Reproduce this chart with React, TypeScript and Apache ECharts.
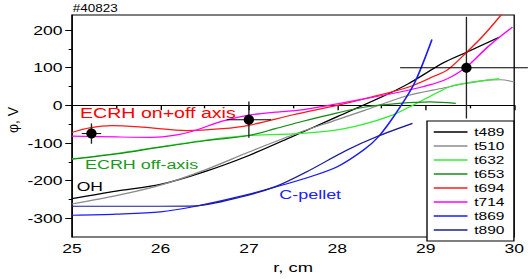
import React, { useEffect, useRef } from 'react';
import * as echarts from 'echarts';

// horizontal stretch of the reference picture
const S = 1.35;
const W = 528 / S;
const H = 279;
const FONT = 'Liberation Sans, Arial, sans-serif';

const seriesNames = ['t489', 't510', 't632', 't653', 't694', 't714', 't869', 't890'];
const seriesColors = ['#000000', '#8c8c8c', '#33ee33', '#158c15', '#ff1a1a', '#ff00ff', '#1a1aff', '#1c1c9c'];

const t489 = [[25, -248], [25.5, -228], [26, -210], [26.5, -176], [27, -133], [27.5, -82], [28, -30], [28.5, 22], [28.8, 57], [29.2, 113], [29.45, 140], [29.83, 181]];
const t510 = [[25, -262], [25.5, -240], [26, -212], [26.5, -172], [27, -124], [27.5, -78], [28, -38], [28.3, -14], [28.8, 26], [29.2, 46], [29.45, 58], [29.7, 67], [29.85, 68], [30, 62]];
const t632 = [[25, -142], [25.5, -128], [26, -110], [26.5, -93], [27, -80], [27.5, -76], [28, -65], [28.3, -50], [28.6, -28], [28.8, -6], [29, 18], [29.15, 36], [29.3, 52], [29.5, 61], [29.83, 71]];
const t653 = [[25, -143], [25.5, -129], [26, -111], [26.5, -94], [27, -80], [27.3, -62], [27.6, -43], [28, -20], [28.3, -5], [28.7, 5], [29.05, 9], [29.34, 5]];
const t694 = [[25, -72], [25.2, -60], [25.45, -54], [25.8, -58], [26.3, -67], [26.7, -62], [27, -53], [27.5, -25], [28, 0], [28.3, 17], [28.8, 48], [29.1, 78], [29.25, 95], [29.45, 138], [29.65, 185], [29.88, 248]];
const t714 = [[25, -82], [25.5, -84], [25.9, -85], [26.15, -80], [26.4, -66], [26.7, -42], [27, -26], [27.3, -18], [27.6, -12], [28, 4], [28.3, 17], [28.8, 40], [29.2, 66], [29.45, 100], [29.7, 155], [29.98, 208]];
const t869 = [[25, -292], [25.5, -289], [26, -283], [26.4, -268], [26.9, -242], [27.3, -217], [27.65, -193], [28, -163], [28.3, -118], [28.47, -82], [28.66, -22], [28.87, 58], [29.07, 175]];
const t890 = [[25, -268], [25.5, -268], [26, -268], [26.4, -267], [26.9, -244], [27.3, -216], [27.65, -177], [28.1, -120], [28.45, -83], [28.85, -48]];
const seriesData = [t489, t510, t632, t653, t694, t714, t869, t890];

// [r, phi, r error, phi error]
const errorPoints = [[25.22, -75, 0.11, 27], [27.0, -38, 0.25, 48], [29.46, 100, 0.75, 135]];

const xTicks = { min: 25, max: 30, interval: 1 };
const yMajorTicks = [-300, -200, -100, 0, 100, 200];
const yMinorTicks = [-250, -150, -50, 50, 150];
const yRange = { min: -350, max: 240 };

const annotations = [
  { text: 'ECRH on+off axis', color: '#ff0000', size: 14.5, x: 80, y: 112.5 },
  { text: 'ECRH off-axis', color: '#1a9a1a', size: 13.3, x: 85, y: 164 },
  { text: 'OH', color: '#000000', size: 13, x: 76.7, y: 186 },
  { text: 'C-pellet', color: '#2020ff', size: 13.3, x: 279.3, y: 194.6 },
];

export default function App() {
  const ref = useRef<HTMLDivElement>(null);
  useEffect(() => {
    const chart = echarts.init(ref.current!, null, { renderer: 'svg', width: W, height: H });
    const lineSeries = seriesNames.map((name, i) => ({
      name,
      type: 'line',
      data: seriesData[i],
      smooth: 0.3,
      symbol: 'none',
      clip: true,
      lineStyle: { color: seriesColors[i], width: 1.2 },
      itemStyle: { color: seriesColors[i] },
      z: 2,
    }));
    const errSeries = {
      type: 'custom',
      data: errorPoints,
      encode: { x: 0, y: 1 },
      clip: false,
      z: 3,
      renderItem: (_p: any, api: any) => {
        const x = api.value(0), y = api.value(1), dx = api.value(2), dy = api.value(3);
        const c = api.coord([x, y]);
        const l = api.coord([x - dx, y]);
        const r = api.coord([x + dx, y]);
        const t = api.coord([x, y + dy]);
        const b = api.coord([x, y - dy]);
        return {
          type: 'group',
          children: [
            { type: 'line', shape: { x1: l[0], y1: l[1], x2: r[0], y2: r[1] }, style: { stroke: '#000', lineWidth: 1 } },
            { type: 'line', shape: { x1: t[0], y1: t[1], x2: b[0], y2: b[1] }, style: { stroke: '#222', lineWidth: 1 } },
            { type: 'ellipse', shape: { cx: c[0], cy: c[1], rx: 3.8, ry: 5 }, style: { fill: '#000' } },
          ],
        };
      },
    };
    const graphics: any[] = annotations.map((a) => ({
      type: 'text',
      x: a.x / S,
      y: a.y,
      style: { text: a.text, fill: a.color, font: `${a.size}px ${FONT}`, textAlign: 'left', textVerticalAlign: 'middle' },
      z: 10,
    }));
    graphics.push({
      type: 'text', x: 72.7 / S, y: 9,
      style: { text: '#40823', fill: '#000', font: `10px ${FONT}`, textAlign: 'left', textVerticalAlign: 'middle' },
    });
    graphics.push({
      type: 'text', x: 13 / S, y: 120, rotation: Math.PI / 2, scaleY: 1 / S,
      style: { text: 'φ, V', fill: '#000', font: `14px ${FONT}`, textAlign: 'center', textVerticalAlign: 'middle' },
    });

    chart.setOption({
      animation: false,
      backgroundColor: '#fff',
      grid: { left: 72 / S, right: W - 515.3 / S, top: 15, bottom: 279 - 238.3, show: true, borderColor: '#000', borderWidth: 1, backgroundColor: 'transparent' },
      legend: {
        data: seriesNames,
        orient: 'vertical',
        left: 427 / S,
        top: 121,
        padding: [5, 7, 5, 5],
        icon: 'rect',
        itemWidth: 25,
        itemHeight: 1.6,
        itemGap: 2,
        backgroundColor: '#fff',
        borderColor: '#000',
        borderWidth: 1,
        borderRadius: 0,
        textStyle: { fontSize: 11.5, lineHeight: 11.5, color: '#000', fontFamily: FONT },
        z: 5,
      },
      xAxis: {
        type: 'value',
        min: xTicks.min,
        max: xTicks.max,
        interval: xTicks.interval,
        name: 'r, cm',
        nameLocation: 'middle',
        nameGap: 18,
        nameTextStyle: { fontSize: 13.6, color: '#000', fontFamily: FONT },
        axisLine: { show: true, lineStyle: { color: '#000', width: 1 } },
        axisTick: { show: true, length: 5, lineStyle: { color: '#000' } },
        minorTick: { show: true, splitNumber: 2, length: 3, lineStyle: { color: '#000' } },
        axisLabel: { fontSize: 13, color: '#000', margin: 5, fontFamily: FONT },
        splitLine: { show: false },
      },
      yAxis: [
        {
          type: 'value',
          min: yRange.min,
          max: yRange.max,
          axisLine: { show: true, lineStyle: { color: '#000', width: 1 } },
          axisTick: { show: true, length: 5, customValues: yMajorTicks, lineStyle: { color: '#000' } },
          axisLabel: { customValues: yMajorTicks, fontSize: 13, color: '#000', margin: 7, fontFamily: FONT },
          splitLine: { show: false },
        },
        {
          type: 'value',
          min: yRange.min,
          max: yRange.max,
          position: 'left',
          axisLine: { show: false },
          axisTick: { show: true, length: 2.5, customValues: yMinorTicks, lineStyle: { color: '#000' } },
          axisLabel: { show: false },
          splitLine: { show: false },
        },
      ],
      graphic: graphics,
      series: [...lineSeries, errSeries],
    });
    return () => chart.dispose();
  }, []);
  return (
    <div style={{ position: 'fixed', left: 0, top: 0, width: 528, height: 279, overflow: 'hidden', background: '#fff' }}>
      <div ref={ref} style={{ width: W, height: H, transform: `scaleX(${S})`, transformOrigin: '0 0' }} />
    </div>
  );
}
